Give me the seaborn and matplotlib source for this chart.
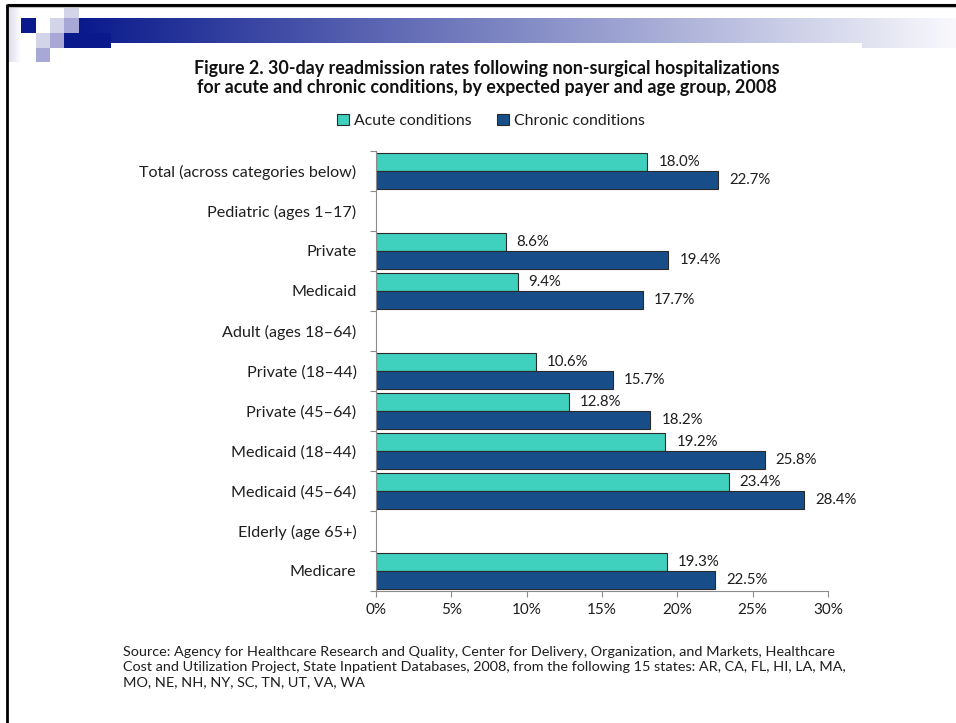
import numpy as np
import pandas as pd
import matplotlib
matplotlib.use("Agg")
import matplotlib.pyplot as plt
from matplotlib.patches import Rectangle, Patch
from matplotlib.ticker import FuncFormatter, FixedLocator
import seaborn as sns

# Rows of the chart, top to bottom (group headers carry no bars)
categories = [
    "Total (across categories below)",
    "Pediatric (ages 1\u201317)",
    "Private",
    "Medicaid",
    "Adult (ages 18\u201364)",
    "Private (18\u201344)",
    "Private (45\u201364)",
    "Medicaid (18\u201344)",
    "Medicaid (45\u201364)",
    "Elderly (age 65+)",
    "Medicare",
]
# Readmission rates (%), None for header rows
acute = [18.0, None, 8.6, 9.4, None, 10.6, 12.8, 19.2, 23.4, None, 19.3]
chronic = [22.7, None, 19.4, 17.7, None, 15.7, 18.2, 25.8, 28.4, None, 22.5]
series_names = ["Acute conditions", "Chronic conditions"]
x_ticks = [0, 5, 10, 15, 20, 25, 30]

title = ("Figure 2. 30-day readmission rates following non-surgical hospitalizations\n"
         "for acute and chronic conditions, by expected payer and age group, 2008")
source = ("Source: Agency for Healthcare Research and Quality, Center for Delivery, Organization, and Markets, Healthcare\n"
          "Cost and Utilization Project, State Inpatient Databases, 2008, from the following 15 states: AR, CA, FL, HI, LA, MA,\n"
          "MO, NE, NH, NY, SC, TN, UT, VA, WA")

colors = {"Acute conditions": "#3fd0be", "Chronic conditions": "#174e8a"}

rows = []
for cat, a, c in zip(categories, acute, chronic):
    if a is not None:
        rows.append({"category": cat, "condition": series_names[0], "rate": a})
    if c is not None:
        rows.append({"category": cat, "condition": series_names[1], "rate": c})
df = pd.DataFrame(rows)

sns.set_theme(style="white")
plt.rcParams["font.family"] = ["Lato", "DejaVu Sans"]
text_color = "#1e1e1e"

W, H = 956, 723
fig = plt.figure(figsize=(W / 100, H / 100), dpi=100)

# ---- slide decoration (pixel coordinates) ----
bg = fig.add_axes([0, 0, 1, 1], zorder=-1)
bg.set_xlim(0, W)
bg.set_ylim(H, 0)
bg.axis("off")

dark = np.array([10, 26, 140]) / 255.0
white = np.array([1.0, 1.0, 1.0])

# horizontal gradient banner
n = 512
t = np.linspace(0, 1, n)
grad = (dark[None, :] * (1 - t[:, None]) + np.array([0.975, 0.975, 0.99])[None, :] * t[:, None])
bg.imshow(grad[None, :, :], extent=(79, W, 48, 18), aspect="auto", interpolation="bilinear", zorder=1)

# faint left strip
strip = (np.array([0.86, 0.86, 0.93])[None, :] * (1 - t[:, None]) + white[None, :] * t[:, None])
bg.imshow(strip[None, :, :], extent=(8, 21, 62, 6), aspect="auto", interpolation="bilinear", zorder=1)

light = "#d4d4e8"
medium = "#a8a8d6"
deep = "#0a1a8c"
squares = [
    (64, 6, 15, 12, light),
    (21, 18, 15, 15, deep),
    (50, 18, 14, 15, light),
    (64, 18, 15, 15, medium),
    (36, 33, 14, 15, light),
    (50, 33, 14, 15, medium),
    (64, 33, 47, 15, deep),
    (36, 48, 14, 14, medium),
]
for x0, y0, w, h, col in squares:
    bg.add_patch(Rectangle((x0, y0), w, h, facecolor=col, edgecolor="none", zorder=2))

# white panel edge cutting the banner
bg.add_patch(Rectangle((111, 43), 751, 10, facecolor="white", edgecolor="none", zorder=3))

# slide frame (top and left)
bg.plot([7, W], [5, 5], color="black", lw=2.2, solid_capstyle="butt", zorder=4)
bg.plot([7, W], [6.8, 6.8], color="#bdbdbd", lw=0.8, zorder=4)
bg.plot([7.5, 7.5], [4, H], color="black", lw=2.0, solid_capstyle="butt", zorder=4)

# ---- bar chart ----
ax = fig.add_axes([376 / W, 1 - 591 / H, (828 - 376) / W, (591 - 151) / H])
sns.barplot(
    data=df, y="category", x="rate", hue="condition",
    order=categories, hue_order=series_names, palette=colors, saturation=1,
    orient="h", width=0.9, edgecolor="#2a2a2a", linewidth=0.8,
    errorbar=None, legend=False, ax=ax,
)
ax.set_xlim(0, 30)
ax.set_ylim(len(categories) - 0.5, -0.5)
ax.set_xlabel("")
ax.set_ylabel("")

for cont in ax.containers:
    ax.bar_label(cont, fmt="{:.1f}%", padding=8, fontsize=10.8, color=text_color)

ax.xaxis.set_major_locator(FixedLocator(x_ticks))
ax.xaxis.set_major_formatter(FuncFormatter(lambda v, p: f"{v:.0f}%"))
ax.tick_params(axis="x", which="major", length=4, width=0.8, color="#8c8c8c",
               labelsize=11, labelcolor=text_color, pad=5, bottom=True)
ax.set_yticks(range(len(categories)))
ax.set_yticklabels(categories)
ax.tick_params(axis="y", which="major", length=0, labelsize=11.6, labelcolor=text_color, pad=14)
ax.yaxis.set_minor_locator(FixedLocator(np.arange(-0.5, len(categories), 1.0)))
ax.tick_params(axis="y", which="minor", length=4, width=0.8, color="#8c8c8c", left=True)

for side in ("top", "right"):
    ax.spines[side].set_visible(False)
for side in ("left", "bottom"):
    ax.spines[side].set_color("#8c8c8c")
    ax.spines[side].set_linewidth(0.8)
ax.set_facecolor("none")

# title, legend, source
fig.text(487 / W, 1 - 78 / H, title, ha="center", va="center", fontsize=12.9,
         fontweight="bold", color="#111111", linespacing=1.2)

handles = [Patch(facecolor=colors[s], edgecolor="#2a2a2a", linewidth=0.8) for s in series_names]
fig.legend(handles, series_names, loc="center", bbox_to_anchor=(491 / W, 1 - 121 / H),
           ncol=2, frameon=False, fontsize=11.4, handlelength=0.75, handleheight=0.75,
           handletextpad=0.3, columnspacing=1.6, labelcolor=text_color)

fig.text(123 / W, 1 - 667 / H, source, ha="left", va="center", fontsize=10.4,
         color=text_color, linespacing=1.3)

fig.savefig("out.png", dpi=100, facecolor="white")
